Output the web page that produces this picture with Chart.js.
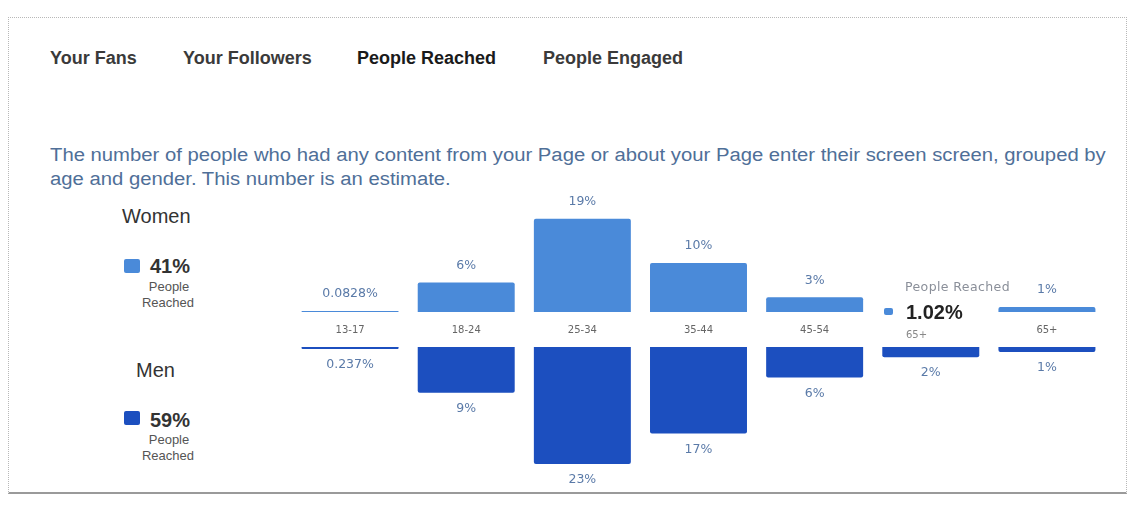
<!DOCTYPE html>
<html>
<head>
<meta charset="utf-8">
<script src="https://cdn.jsdelivr.net/npm/chart.js@4.4.1/dist/chart.umd.min.js"></script>
<style>
  html, body { margin:0; padding:0; background:#fff; width:1131px; height:522px; overflow:hidden; font-family:"Liberation Sans", Arial, sans-serif; }
  .abs { position:absolute; white-space:nowrap; }
  #card { position:absolute; left:8px; top:17px; width:1119px; height:477px; border:1px dotted #b8b8b8; border-bottom:2px solid #9a9a9a; box-sizing:border-box; }
  .tab { font-weight:bold; font-size:18px; color:#3a3a3a; line-height:22px; top:47px; }
  .desc { font-size:17.6px; color:#4f6f98; line-height:22px; left:50px; transform:scaleX(1.152); transform-origin:0 50%; }
  .big { font-size:20px; color:#333; line-height:24px; }
  .pct { font-size:20px; font-weight:bold; color:#333; line-height:24px; }
  .sub { font-size:13px; color:#555; line-height:16px; text-align:center; width:80px; }
  .sq { position:absolute; width:16px; height:14px; border-radius:2px; }
</style>
</head>
<body>
<div id="card"></div>
<div class="abs tab" style="left:50px;">Your Fans</div>
<div class="abs tab" style="left:183px;">Your Followers</div>
<div class="abs tab" style="left:357px;color:#1a1a1a;">People Reached</div>
<div class="abs tab" style="left:543px;">People Engaged</div>
<div class="abs desc" style="top:144px;">The number of people who had any content from your Page or about your Page enter their screen screen, grouped by</div>
<div class="abs desc" style="top:168px;">age and gender. This number is an estimate.</div>

<div class="abs big" style="left:122px;top:204px;">Women</div>
<div class="sq" style="left:124px;top:259px;background:#4a8ad9;"></div>
<div class="abs pct" style="left:150px;top:254px;">41%</div>
<div class="abs sub" style="left:129px;top:279px;">People</div>
<div class="abs sub" style="left:128px;top:295px;">Reached</div>

<div class="abs big" style="left:136px;top:358px;">Men</div>
<div class="sq" style="left:124px;top:411px;background:#1c4fbf;"></div>
<div class="abs pct" style="left:150px;top:408px;">59%</div>
<div class="abs sub" style="left:129px;top:432px;">People</div>
<div class="abs sub" style="left:128px;top:448px;">Reached</div>

<div class="abs" style="left:292px;top:180px;width:813px;height:167px;"><canvas id="top"></canvas></div>
<div class="abs" style="left:292px;top:347px;width:813px;height:148px;"><canvas id="bot"></canvas></div>

<div class="abs" style="left:878px;top:277px;width:118px;height:68px;background:#fff;">
  <div class="abs" style="left:27px;top:2px;font-family:'DejaVu Sans';font-size:12.5px;letter-spacing:0.4px;color:#8a8f99;line-height:16px;">People Reached</div>
  <div class="sq" style="left:6px;top:31px;width:9px;height:7px;background:#4a8ad9;"></div>
  <div class="abs" style="left:28px;top:23px;font-size:20px;font-weight:bold;color:#222;line-height:24px;">1.02%</div>
  <div class="abs" style="left:28px;top:51px;font-family:'DejaVu Sans';font-size:10px;color:#888;line-height:14px;">65+</div>
</div>

<script>
const categories = ['13-17', '18-24', '25-34', '35-44', '45-54', '55-64', '65+'];
const womenValues = [0.0828, 6, 19, 10, 3, 1.02, 1];
const menValues = [0.237, 9, 23, 17, 6, 2, 1];
const womenColor = '#4a8ad9';
const menColor = '#1c4fbf';

function fmt(v) { return v < 1 ? v + '%' : Math.round(v) + '%'; }

const valueLabels = {
  id: 'valueLabels',
  afterDatasetsDraw(chart, args, opts) {
    const ctx = chart.ctx;
    const meta = chart.getDatasetMeta(0);
    const data = chart.data.datasets[0].data;
    ctx.save();
    ctx.font = '12.5px "DejaVu Sans"';
    ctx.fillStyle = '#5a7aa8';
    ctx.textAlign = 'center';
    ctx.textBaseline = 'middle';
    meta.data.forEach((bar, i) => {
      const y = opts.down ? bar.y + 16 : bar.y - 17;
      ctx.fillText(fmt(data[i]), bar.x, y);
    });
    ctx.restore();
  }
};

const common = {
  responsive: true,
  maintainAspectRatio: false,
  animation: false,
  layout: { padding: 0 },
  events: [],
  plugins: { legend: { display: false }, tooltip: { enabled: false } }
};

new Chart(document.getElementById('top'), {
  type: 'bar',
  data: { labels: categories, datasets: [{ data: womenValues, backgroundColor: womenColor, borderRadius: 2, borderSkipped: 'bottom', categoryPercentage: 1, barPercentage: 0.835, minBarLength: 1 }] },
  options: Object.assign({}, common, {
    plugins: Object.assign({}, common.plugins, { valueLabels: { down: false } }),
    scales: {
      x: { grid: { display: false, drawTicks: false }, border: { display: false },
           ticks: { color: '#666', font: { family: 'DejaVu Sans', size: 10 }, padding: 12, maxRotation: 0 },
           afterFit: s => { s.height = 35; } },
      y: { display: false, min: 0, max: 26.9 }
    }
  }),
  plugins: [valueLabels]
});

new Chart(document.getElementById('bot'), {
  type: 'bar',
  data: { labels: categories, datasets: [{ data: menValues, backgroundColor: menColor, borderRadius: 2, borderSkipped: 'start', categoryPercentage: 1, barPercentage: 0.835, minBarLength: 2 }] },
  options: Object.assign({}, common, {
    plugins: Object.assign({}, common.plugins, { valueLabels: { down: true } }),
    scales: {
      x: { display: false },
      y: { display: false, min: 0, max: 29.1, reverse: true }
    }
  }),
  plugins: [valueLabels]
});
</script>
</body>
</html>
